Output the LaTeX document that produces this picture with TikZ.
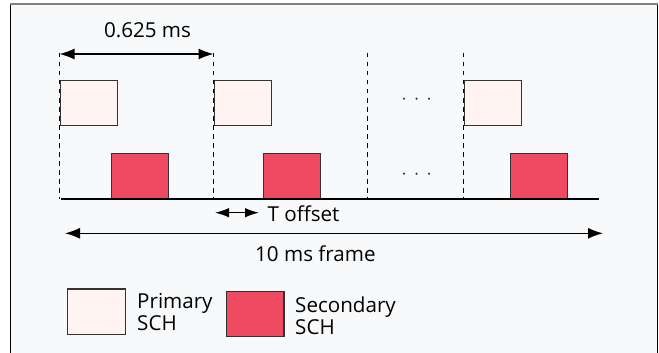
\documentclass[tikz,border=0pt]{standalone}
\usepackage{fontspec}
\setmainfont{Open Sans}
\usetikzlibrary{arrows.meta}
\definecolor{bgc}{HTML}{F8F9FB}
\definecolor{primc}{HTML}{FFF4F2}
\definecolor{secc}{HTML}{EE4A62}
\definecolor{edgec}{HTML}{333333}
\begin{document}
\begin{tikzpicture}[x=1pt,y=-1pt,
  lbl/.style={font=\fontsize{20.6}{21.5}\selectfont, inner sep=0pt, text=black},
  prim/.style={draw=edgec, fill=primc, line width=1.3pt, inner sep=0pt, minimum width=57pt, minimum height=45pt, anchor=north west},
  sec/.style={draw=edgec, fill=secc, line width=1.3pt, inner sep=0pt, minimum width=57pt, minimum height=45pt, anchor=south west},
  guide/.style={draw=black, line width=1.3pt, dash pattern=on 4.5pt off 4.5pt},
  dim/.style={draw=black, line width=1.4pt, {Latex[length=15pt,width=11pt]}-{Latex[length=15pt,width=11pt]}},
  dotc/.style={fill=black!80, inner sep=0pt, minimum size=2.4pt, circle}
]
\useasboundingbox (0,0) rectangle (659,353);
\fill[white] (0,0) rectangle (659,353);
\fill[bgc] (10,5) rectangle (658,353);
\draw[line width=2pt, draw=black!50] (10,4.5) -- (658,4.5);
\draw[line width=1.5pt] (10.7,5) -- (10.7,353);
\draw[line width=1.5pt] (657.3,5) -- (657.3,353);

% guide lines
\foreach \n/\x in {a/59.5, b/213.5, c/367.5, d/463.5} {
  \coordinate (t\n) at (\x,53);
  \coordinate (b\n) at (\x,199);
  \draw[guide] (t\n) -- (b\n);
}

% primary boxes
\node[prim] (p1) at (59.5,80) {};
\node[prim] (p2) at (213.5,80) {};
\node[prim] (p3) at (463.5,80) {};
% secondary boxes
\node[sec] (s1) at (110.7,199) {};
\node[sec] (s2) at (262.7,199) {};
\node[sec] (s3) at (509.7,199) {};

% baseline
\coordinate (bl0) at (61,199);
\coordinate (bl1) at (599,199);
\draw[line width=1.3pt] (bl0) -- (bl1);

% dots
\foreach \i/\x in {1/404, 2/416.5, 3/429} {
  \node[dotc] (du\i) at (\x,98.7) {};
  \node[dotc] (dl\i) at (\x,173.7) {};
}

% 0.625 ms
\coordinate (q0) at (59.5,54);
\coordinate (q1) at (213.5,54);
\draw[dim] (q0) -- (q1);
\node[lbl, anchor=base] (l625) at (147.5,37.3) {0.625 ms};

% T offset
\coordinate (o0) at (215,212.7);
\coordinate (o1) at (259,212.7);
\draw[draw=black, line width=1.4pt, {Latex[length=14pt,width=9.5pt]}-{Latex[length=14pt,width=9.5pt]}] (o0) -- (o1);
\node[lbl, anchor=base west] (loff) at (267.5,221.7) {T offset};

% 10 ms frame
\coordinate (f0) at (65,233.3);
\coordinate (f1) at (603,233.3);
\draw[dim] (f0) -- (f1);
\node[lbl, anchor=base west] (lfr) at (255,261.7) {10 ms frame};

% legend
\node[prim, minimum width=57.7pt, minimum height=45.4pt] (lp) at (67,288.3) {};
\node[lbl, anchor=base west, align=left] (lpt) at (137,330) {Primary\\SCH};
\node[sec, minimum width=57.3pt, minimum height=44.7pt, anchor=north west] (ls) at (226,291) {};
\node[lbl, anchor=base west, align=left] (lst) at (295,334) {Secondary\\SCH};
\end{tikzpicture}
\end{document}
